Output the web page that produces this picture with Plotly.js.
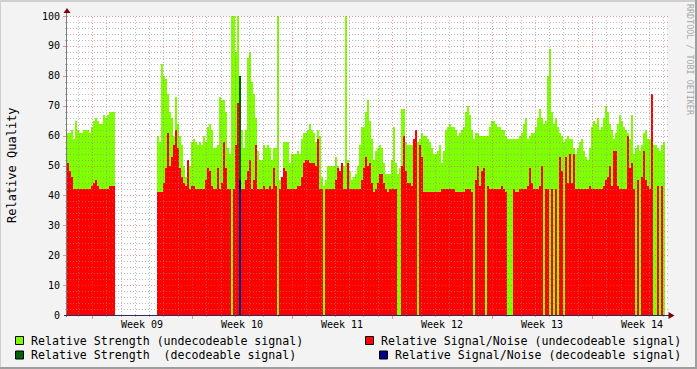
<!DOCTYPE html>
<html><head><meta charset="utf-8">
<script src="https://cdn.plot.ly/plotly-3.0.1.min.js"></script>
<style>html,body{margin:0;padding:0;background:#F3F3F3;}#chart{width:697px;height:369px;}</style>
</head><body><div id="chart"></div>
<script>
// ---- data ----
const weekLabels = ['Week 09','Week 10','Week 11','Week 12','Week 13','Week 14'];
const sampleStep = 0.14; // days between samples
const strengthUndec = [
61,61,62,59,65,62,61,61,62,62,62,61,63,65,66,65,64,64,67,66,67,68,68,68,
null,null,null,null,null,null,null,null,null,null,null,null,null,null,null,null,null,null,null,null,null,
60,58,84,80,79,74,68,66,60,73,64,60,57,50,46,44,50,58,59,58,57,58,57,60,58,63,64,62,56,56,
57,73,72,72,68,56,54,100,100,88,100,null,62,56,62,86,88,78,74,66,55,52,52,57,56,57,56,52,56,56,
100,45,46,58,58,58,51,54,54,54,55,54,59,61,61,62,64,62,61,58,62,60,46,43,45,50,50,50,50,53,
50,48,51,50,100,52,48,45,46,47,50,57,63,63,68,
72,65,59,52,55,56,57,56,51,47,47,47,52,63,51,47,49,69,69,58,57,57,57,59,58,58,59,61,60,60,
59,58,56,54,54,55,57,51,55,62,63,64,63,63,62,60,61,62,63,68,70,67,62,59,61,61,60,60,60,60,
60,63,65,65,64,63,63,62,62,60,59,59,59,59,
59,59,60,61,64,66,59,60,61,61,63,66,69,66,64,65,80,89,68,64,66,63,61,60,58,59,60,59,59,56,
54,56,58,59,55,53,52,56,63,65,64,66,62,63,66,70,68,64,62,59,61,64,67,65,63,62,61,59,67,54,
56,57,55,57,61,62,59,59,58,57,57,56,55,57,58,null
];
const snUndec = [
51,48,46,42,42,42,42,42,42,42,42,42,43,44,45,43,42,42,42,42,42,43,43,43,
null,null,null,null,null,null,null,null,null,null,null,null,null,null,null,null,null,null,null,null,null,
41,41,41,44,49,61,50,53,57,62,56,49,46,44,43,52,42,43,43,42,42,42,42,42,45,49,48,43,42,42,
49,42,44,58,49,42,42,0,42,57,71,null,42,42,45,48,52,42,45,57,42,42,42,43,42,42,43,42,49,43,
0,42,46,49,48,42,42,42,42,42,43,43,46,51,52,52,51,51,51,50,59,42,42,0,42,42,42,42,42,45,
49,48,51,42,42,51,42,42,42,42,42,42,45,49,53,
50,51,44,41,42,44,47,47,44,42,41,42,42,42,42,0,0,50,60,48,44,44,43,59,62,0,57,53,41,41,
41,41,41,41,41,41,41,42,42,42,42,42,42,42,41,41,41,41,41,42,42,42,41,0,45,50,43,48,49,0,
43,42,42,42,42,42,42,43,42,41,0,0,0,42,
41,41,42,42,42,42,43,49,44,42,42,42,43,50,0,42,42,0,42,0,42,0,53,48,0,53,44,54,44,54,
42,42,42,42,42,42,42,43,42,42,42,42,42,42,43,45,46,50,43,55,55,43,42,42,42,42,60,49,51,42,
0,45,0,46,55,45,43,42,74,0,0,43,0,43,0,null
];
const decodeIndex = [86];
const strengthDec = [80];
const snDec = [45];

// ---- geometry helpers (layout only) ----
const PL = 67, PR = 667, PT = 16, PB = 315;
const PW = PR - PL, PH = PB - PT;
const totalDays = 42;
const px2p = px => (px - PL) / PW;
const py2p = py => (PB - py) / PH;
const day2px = d => PL + d * PW / totalDays;
const val2py = v => PB - v * PH / 100;

const t = strengthUndec.map((_, i) => i * sampleStep);
const td = decodeIndex.map(i => i * sampleStep);
const firstWeekStart = 1.75;
const weekMid = weekLabels.map((_, k) => firstWeekStart + 3.5 + 7 * k);

const mono = 'DejaVu Sans Mono';
const traces = [
  {type:'bar', x:t, y:strengthUndec, width:sampleStep, offset:0, marker:{color:'#7FFF00', line:{width:0}}, hoverinfo:'skip'},
  {type:'bar', x:td, y:strengthDec, width:sampleStep, offset:0, marker:{color:'#006400', line:{width:0}}, hoverinfo:'skip'},
  {type:'bar', x:t, y:snUndec, width:sampleStep, offset:0, marker:{color:'#FF0000', line:{width:0}}, hoverinfo:'skip'},
  {type:'bar', x:td, y:snDec, width:sampleStep, offset:0, marker:{color:'#00008B', line:{width:0}}, hoverinfo:'skip'}
];

const shapes = [];
const gMinor = 'rgba(143,143,143,0.6)', gMajor = 'rgba(222,80,72,0.6)';
const pline = (x0, y0, x1, y1, color, dash, width) => ({type:'line', xref:'paper', yref:'paper',
  x0:px2p(x0), y0:py2p(y0), x1:px2p(x1), y1:py2p(y1), layer:'above', line:{color:color, width:width||1, dash:dash||'solid'}});
// horizontal grid
for (let v = 2; v <= 100; v += 2) {
  const major = v % 10 === 0;
  const py = Math.round(val2py(v)) + 0.5;
  shapes.push(pline(PL, py, PR + 1, py, major ? gMajor : gMinor, '1px,2px'));
  shapes.push(pline(PL - (major ? 4 : 2), py, PL, py, major ? gMajor : gMinor));
}
// vertical grid (daily) and ticks
for (let k = 0; k < totalDays; k++) {
  const d = firstWeekStart - 1 + k;
  const major = (k - 1) % 7 === 0;
  const px = Math.round(day2px(d)) + 0.5;
  shapes.push(pline(px, PB, px, PT - 1, major ? gMajor : gMinor, '1px,2px'));
  shapes.push(pline(px, PB, px, PB + (major ? 4 : 2), major ? gMajor : gMinor));
}
// axes
shapes.push(pline(PL - 0.5, PB + 2, PL - 0.5, 12, '#7c7c7c'));
shapes.push(pline(PL - 3, PB + 0.5, 670, PB + 0.5, '#2a2a60'));
// arrows
const ppath = pts => 'M' + pts.map(p => px2p(p[0]) + ',' + py2p(p[1])).join(' L') + ' Z';
shapes.push({type:'path', xref:'paper', yref:'paper', layer:'above', path:ppath([[67,8],[63.5,13],[70.5,13]]), fillcolor:'#7F0000', line:{width:0}});
shapes.push({type:'path', xref:'paper', yref:'paper', layer:'above', path:ppath([[674.5,315.5],[668.5,312],[668.5,319]]), fillcolor:'#7F0000', line:{width:0}});
// frame
const prect = (x0, y0, x1, y1, fill) => ({type:'rect', xref:'paper', yref:'paper', x0:px2p(x0), y0:py2p(y0), x1:px2p(x1), y1:py2p(y1), fillcolor:fill, line:{width:0}, layer:'above'});
shapes.push(prect(0, 0, 697, 2, '#CFCFCF'));
shapes.push(prect(0, 0, 1, 369, '#CFCFCF'));
shapes.push(prect(0, 367, 697, 369, '#9E9E9E'));
shapes.push(prect(695, 0, 697, 369, '#9E9E9E'));
// legend boxes
const lbox = (x, y, fill) => ({type:'rect', xref:'paper', yref:'paper', x0:px2p(x), y0:py2p(y), x1:px2p(x + 8), y1:py2p(y + 8), fillcolor:fill, line:{color:'#000', width:1}, layer:'above'});
shapes.push(lbox(15.5, 336.5, '#7FFF00'));
shapes.push(lbox(15.5, 351, '#006400'));
shapes.push(lbox(365.5, 336.5, '#FF0000'));
shapes.push(lbox(379.5, 351, '#00008B'));

const ann = (text, x, y, opts) => Object.assign({text:text, xref:'paper', yref:'paper', x:px2p(x), y:py2p(y), showarrow:false,
  xanchor:'left', yanchor:'middle', font:{family:mono, size:11.6, color:'#000'}}, opts || {});
const annotations = [
  ann('Relative Strength (undecodeable signal)', 28.5, 340.5),
  ann('Relative Strength  (decodeable signal)', 28.5, 355),
  ann('Relative Signal/Noise (undecodeable signal)', 378.5, 340.5),
  ann('Relative Signal/Noise (decodeable signal)', 392.5, 355),
  ann('Relative Quality', 12, 165, {xanchor:'center', textangle:-90, font:{family:mono, size:12, color:'#000'}}),
  ann('RRDTOOL / TOBI OETIKER', 690, 60, {xanchor:'center', textangle:90, font:{family:mono, size:8.4, color:'#a8a8a8'}})
];

const yTicks = [];
for (let v = 0; v <= 100; v += 10) yTicks.push(v);

const layout = {
  width:697, height:369, margin:{l:PL, r:697 - PR, t:PT, b:369 - PB, pad:0},
  paper_bgcolor:'#F3F3F3', plot_bgcolor:'#FFFFFF',
  barmode:'overlay', bargap:0, showlegend:false,
  font:{family:mono, size:10, color:'#000'},
  xaxis:{range:[0, totalDays], tickvals:weekMid, ticktext:weekLabels, ticks:'', showgrid:false, zeroline:false,
    showline:false, tickfont:{family:mono, size:10, color:'#000'}, fixedrange:true, ticklabelstandoff:2},
  yaxis:{range:[0, 100], tickvals:yTicks, ticks:'', showgrid:false, zeroline:false, showline:false,
    tickfont:{family:mono, size:10, color:'#000'}, fixedrange:true, ticklabelstandoff:6},
  shapes:shapes, annotations:annotations
};
Plotly.newPlot('chart', traces, layout, {staticPlot:true, displayModeBar:false});
</script></body></html>
